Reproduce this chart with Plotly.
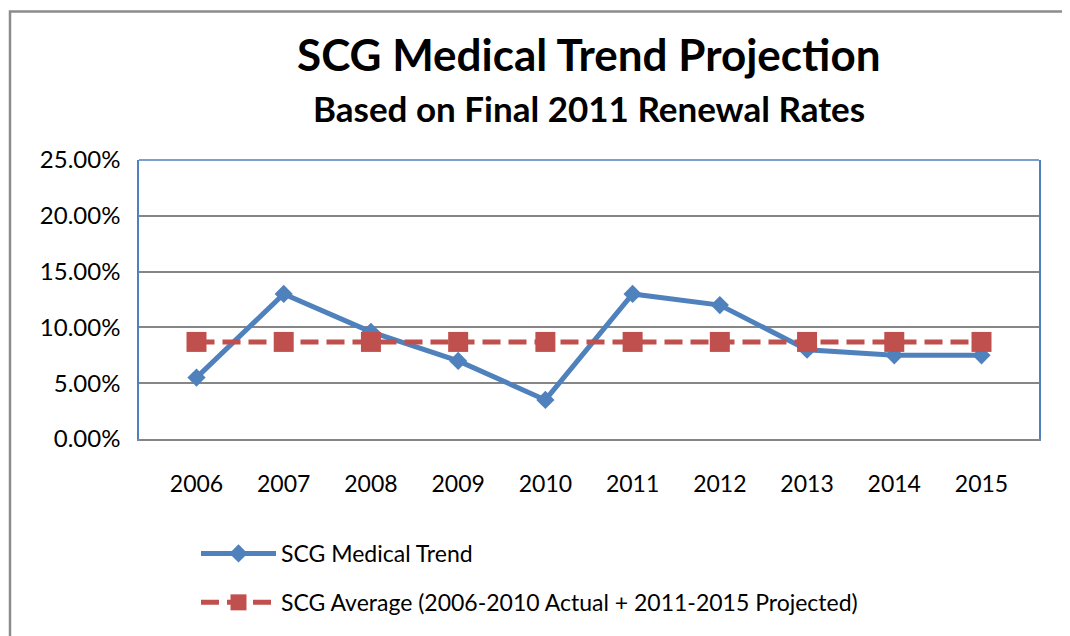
import plotly.graph_objects as go

years = ["2006", "2007", "2008", "2009", "2010", "2011", "2012", "2013", "2014", "2015"]
trend = [0.055, 0.130, 0.096, 0.070, 0.035, 0.130, 0.120, 0.080, 0.075, 0.075]
average = [0.087, 0.087, 0.087, 0.087, 0.087, 0.087, 0.087, 0.087, 0.087, 0.087]
y_ticks = [0, 0.05, 0.10, 0.15, 0.20, 0.25]

BLUE = "#4F81BD"
RED = "#C0504D"
GRAY = "#868686"
FONT = "Lato, Carlito, Calibri, sans-serif"

# page body has an 8px margin, so figure coords = screen coords - 8
OFF = 8
W, H = 1062, 628
L, T = 139 - OFF, 160 - OFF
pw, ph = 900, 282
R, B = W - L - pw, H - T - ph


def py(screen_y):
    return (T + ph - (screen_y - OFF)) / ph


def px(screen_x):
    return ((screen_x - OFF) - L) / pw


fig = go.Figure()
fig.add_trace(go.Scatter(
    x=years, y=trend, name="SCG Medical Trend", mode="lines+markers",
    legendgroup="a",
    line=dict(color=BLUE, width=5),
    marker=dict(symbol="diamond", size=14, color=BLUE),
))
fig.add_trace(go.Scatter(
    x=years, y=average, name="SCG Average (2006-2010 Actual + 2011-2015 Projected)",
    mode="lines+markers", legendgroup="b",
    line=dict(color=RED, width=5, dash="18px,8px"),
    marker=dict(symbol="square", size=20, color=RED),
))

fig.update_layout(
    width=W, height=H,
    margin=dict(l=L, r=R, t=T, b=B),
    paper_bgcolor="white", plot_bgcolor="white",
    font=dict(family=FONT, size=23, color="black"),
    xaxis=dict(
        type="category", showgrid=False, showline=True, linecolor=GRAY, linewidth=2,
        ticks="", tickfont=dict(size=23), ticklabelstandoff=23,
    ),
    yaxis=dict(
        range=[0, 0.25], tickvals=y_ticks, tickformat=".2%",
        showgrid=True, gridcolor=GRAY, gridwidth=1.5,
        showline=True, linecolor=BLUE, linewidth=1.5, mirror=True,
        zeroline=False, ticks="", tickfont=dict(size=24), ticklabelstandoff=12,
    ),
    showlegend=True,
    legend=dict(
        x=px(196), y=py(536), xanchor="left", yanchor="top",
        orientation="v", itemwidth=75, tracegroupgap=16, traceorder="grouped",
        font=dict(family=FONT, size=23), bgcolor="rgba(0,0,0,0)",
        itemsizing="trace",
    ),
    annotations=[
        dict(text="<b>SCG Medical Trend Projection</b>", xref="paper", yref="paper",
             x=0.5, y=py(53), xanchor="center", yanchor="middle", showarrow=False,
             font=dict(family=FONT, size=44, color="black")),
        dict(text="<b>Based on Final 2011 Renewal Rates</b>", xref="paper", yref="paper",
             x=0.5, y=py(107), xanchor="center", yanchor="middle", showarrow=False,
             font=dict(family=FONT, size=35, color="black")),
    ],
    shapes=[
        dict(type="line", xref="paper", yref="paper", x0=0, x1=1, y0=1, y1=1,
             line=dict(color=BLUE, width=1.5), layer="above"),
        dict(type="rect", xref="paper", yref="paper",
             x0=px(10), x1=px(1067), y0=py(680), y1=py(10),
             line=dict(color="#8C8C8C", width=2.5), layer="below"),
    ],
)

fig.write_html("out.html")
